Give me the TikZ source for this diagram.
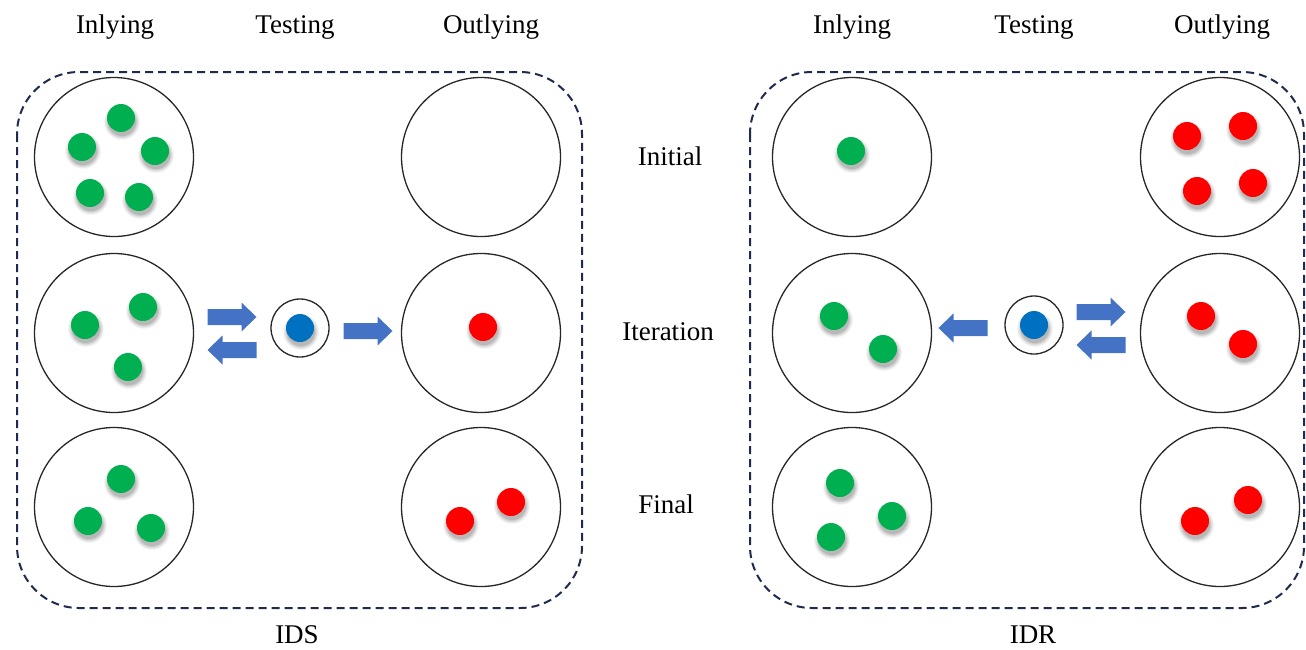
\documentclass[tikz,border=0pt]{standalone}
\usepackage{fontspec}
\setmainfont{Liberation Serif}
\definecolor{dotgreen}{HTML}{00B050}
\definecolor{dotred}{HTML}{FF0000}
\definecolor{dotblue}{HTML}{0070C0}
\definecolor{arrblue}{HTML}{4472C4}
\definecolor{navy}{HTML}{1F2A4F}
\newcommand\mydot[4]{%
  \foreach \r/\o in {18/0.04,17/0.05,16/0.06,15/0.08,14/0.09}{\fill[black,opacity=\o] (#2+1,#3+4) circle (\r);}%
  \node[dotnode,fill=#4] (#1) at (#2,#3) {};}
\begin{document}
\begin{tikzpicture}[x=1pt,y=-1pt,
  every node/.style={font=\fontsize{27}{32}\selectfont},
  lbl/.style={anchor=base,inner sep=0},
  bigc/.style={circle,draw=black!85,line width=1.3pt,minimum size=159pt,inner sep=0},
  smallc/.style={circle,draw=black!85,line width=1.3pt,minimum size=58pt,inner sep=0},
  dotnode/.style={circle,minimum size=28pt,inner sep=0},
  panel/.style={draw=navy,line width=2pt,dash pattern=on 8pt off 5pt,rounded corners=62pt},
  rarrow/.pic={\fill[arrblue] (-24.5,-8) -- (9.5,-8) -- (9.5,-14.5) -- (24.5,0) -- (9.5,14.5) -- (9.5,8) -- (-24.5,8) -- cycle;},
  larrow/.pic={\fill[arrblue] (24.5,-8) -- (-9.5,-8) -- (-9.5,-14.5) -- (-24.5,0) -- (-9.5,14.5) -- (-9.5,8) -- (24.5,8) -- cycle;}
]
\useasboundingbox (0,0) rectangle (1306,649);
% panels
\draw[panel] (17,72) rectangle (582,608);
\draw[panel] (750,72) rectangle (1304,608);
% headers
\node[lbl] (h1) at (115,33) {Inlying};
\node[lbl] (h2) at (295,33) {Testing};
\node[lbl] (h3) at (491,33) {Outlying};
\node[lbl] (h4) at (852,33) {Inlying};
\node[lbl] (h5) at (1034,33) {Testing};
\node[lbl] (h6) at (1222,33) {Outlying};
\node[lbl] (r1) at (670,165) {Initial};
\node[lbl] (r2) at (668,340) {Iteration};
\node[lbl] (r3) at (666,513) {Final};
\node[lbl] (c1) at (297,643) {IDS};
\node[lbl] (c2) at (1033,643) {IDR};
% left panel circles
\node[bigc] (LI1) at (114,157) {};
\node[bigc] (LI2) at (114,333) {};
\node[bigc] (LI3) at (114,507) {};
\node[bigc] (LO1) at (481,157) {};
\node[bigc] (LO2) at (481,333) {};
\node[bigc] (LO3) at (481,507) {};
\node[smallc] (LT) at (300,328) {};
% right panel circles
\node[bigc] (RI1) at (852,157) {};
\node[bigc] (RI2) at (852,333) {};
\node[bigc] (RI3) at (852,507) {};
\node[bigc] (RO1) at (1220,157) {};
\node[bigc] (RO2) at (1220,333) {};
\node[bigc] (RO3) at (1220,507) {};
\node[smallc] (RT) at (1034,325) {};
% left dots
\mydot{a1}{121}{118}{dotgreen}
\mydot{a2}{82}{147}{dotgreen}
\mydot{a3}{155}{151}{dotgreen}
\mydot{a4}{90}{193}{dotgreen}
\mydot{a5}{139}{197}{dotgreen}
\mydot{b1}{143}{307}{dotgreen}
\mydot{b2}{85}{325}{dotgreen}
\mydot{b3}{128}{367}{dotgreen}
\mydot{c1d}{121}{479}{dotgreen}
\mydot{c2d}{88}{521}{dotgreen}
\mydot{c3d}{151}{528}{dotgreen}
\mydot{d1}{483}{327}{dotred}
\mydot{e1}{460}{521}{dotred}
\mydot{e2}{511}{502}{dotred}
\mydot{t1}{300}{328}{dotblue}
% right dots
\mydot{f1}{851}{151}{dotgreen}
\mydot{g1}{1187}{136}{dotred}
\mydot{g2}{1243}{126}{dotred}
\mydot{g3}{1197}{191}{dotred}
\mydot{g4}{1253}{183}{dotred}
\mydot{h1d}{834}{316}{dotgreen}
\mydot{h2d}{883}{349}{dotgreen}
\mydot{i1}{1201}{316}{dotred}
\mydot{i2}{1243}{344}{dotred}
\mydot{j1}{840}{483}{dotgreen}
\mydot{j2}{892}{516}{dotgreen}
\mydot{j3}{831}{537}{dotgreen}
\mydot{k1}{1195}{521}{dotred}
\mydot{k2}{1248}{500}{dotred}
\mydot{t2}{1034}{325}{dotblue}
% arrows
\pic at (232,317) {rarrow};
\pic at (232,350) {larrow};
\pic at (368,331) {rarrow};
\pic at (963,328) {larrow};
\pic at (1101,312) {rarrow};
\pic at (1101,345) {larrow};
\end{tikzpicture}
\end{document}
